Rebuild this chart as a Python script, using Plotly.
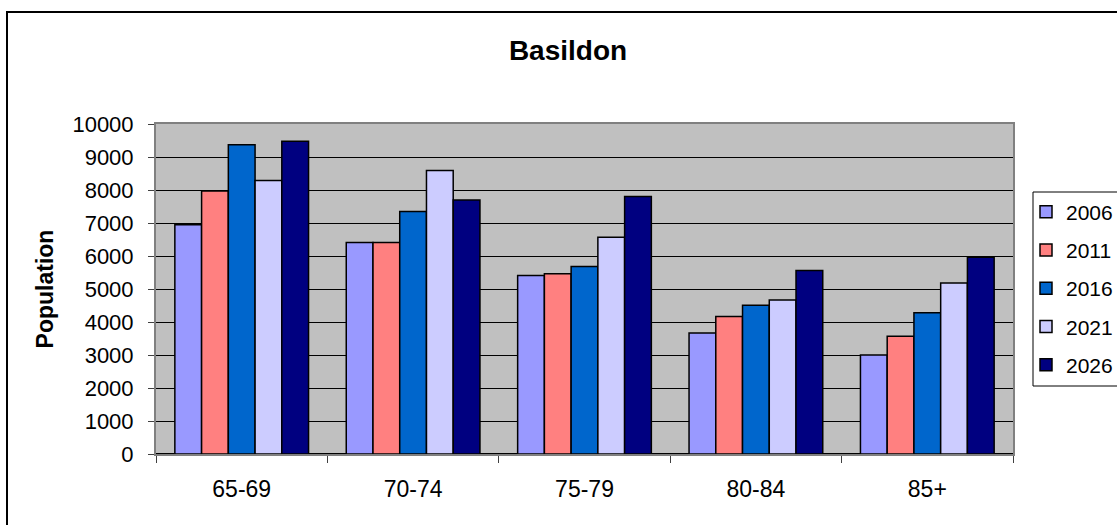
import plotly.graph_objects as go

categories = ["65-69", "70-74", "75-79", "80-84", "85+"]
years = ["2006", "2011", "2016", "2021", "2026"]
v2006 = [6950, 6410, 5410, 3670, 3000]
v2011 = [7970, 6410, 5460, 4170, 3570]
v2016 = [9370, 7350, 5680, 4510, 4280]
v2021 = [8290, 8590, 6570, 4670, 5180]
v2026 = [9480, 7700, 7800, 5560, 5960]
series = [v2006, v2011, v2016, v2021, v2026]
colors = ["#9999FF", "#FF8080", "#0066CC", "#CCCCFF", "#000080"]

FONT = "Liberation Sans, Arial, sans-serif"

fig = go.Figure()
for i, (y, vals) in enumerate(zip(years, series)):
    fig.add_trace(go.Bar(
        x=categories, y=vals, name=y, legendgroup=y,
        marker=dict(color=colors[i], line=dict(color="black", width=1.5)),
    ))

px_x = lambda p: (p - 156) / 857
px_y = lambda p: (454 - p) / 330

fig.update_layout(
    width=1117, height=525,
    margin=dict(l=156, r=104, t=124, b=71, autoexpand=False),
    paper_bgcolor="white", plot_bgcolor="#C0C0C0",
    barmode="group", bargap=0.22, bargroupgap=0,
    font=dict(family=FONT, size=21, color="black"),
    title=dict(text="<b>Basildon</b>", x=px_x(568), xref="paper", xanchor="center",
               y=1 - 50 / 525, yref="container", yanchor="middle",
               font=dict(family=FONT, size=28, color="black")),
    showlegend=True,
    legend=dict(x=px_x(1026), xanchor="left", y=px_y(191.5), yanchor="top",
                borderwidth=0, bgcolor="rgba(0,0,0,0)",
                font=dict(family=FONT, size=21), traceorder="grouped",
                tracegroupgap=8),
    xaxis=dict(showgrid=False, tickson="boundaries", ticks="outside", ticklen=7,
               tickcolor="#404040", linecolor="#808080", linewidth=2, mirror=True,
               ticklabelstandoff=13, tickfont=dict(size=23)),
    yaxis=dict(range=[0, 10000], dtick=1000, tickformat="d", showgrid=True,
               gridcolor="black", gridwidth=1, ticks="outside", ticklen=6,
               tickcolor="#404040", linecolor="#808080", linewidth=2, mirror=True,
               zeroline=True, zerolinecolor="black", zerolinewidth=2,
               ticklabelstandoff=10, tickfont=dict(size=22),
               title=dict(text="<b>Population</b>", standoff=12,
                          font=dict(family=FONT, size=23))),
    shapes=[
        dict(type="rect", xref="paper", yref="paper",
             x0=px_x(7), x1=1.3, y0=-0.3, y1=px_y(12),
             line=dict(color="black", width=2), fillcolor="rgba(0,0,0,0)",
             layer="above"),
        dict(type="rect", xref="paper", yref="paper",
             x0=px_x(1033), x1=px_x(1140), y0=px_y(386), y1=px_y(192),
             line=dict(color="black", width=1), fillcolor="white",
             layer="above"),
    ],
)

fig.write_html("out.html", config={"displayModeBar": False})
with open("out.html", encoding="utf-8") as f:
    html = f.read()
html = html.replace("<head>", "<head><style>html,body{margin:0;padding:0;overflow:hidden}</style>", 1)
with open("out.html", "w", encoding="utf-8") as f:
    f.write(html)
